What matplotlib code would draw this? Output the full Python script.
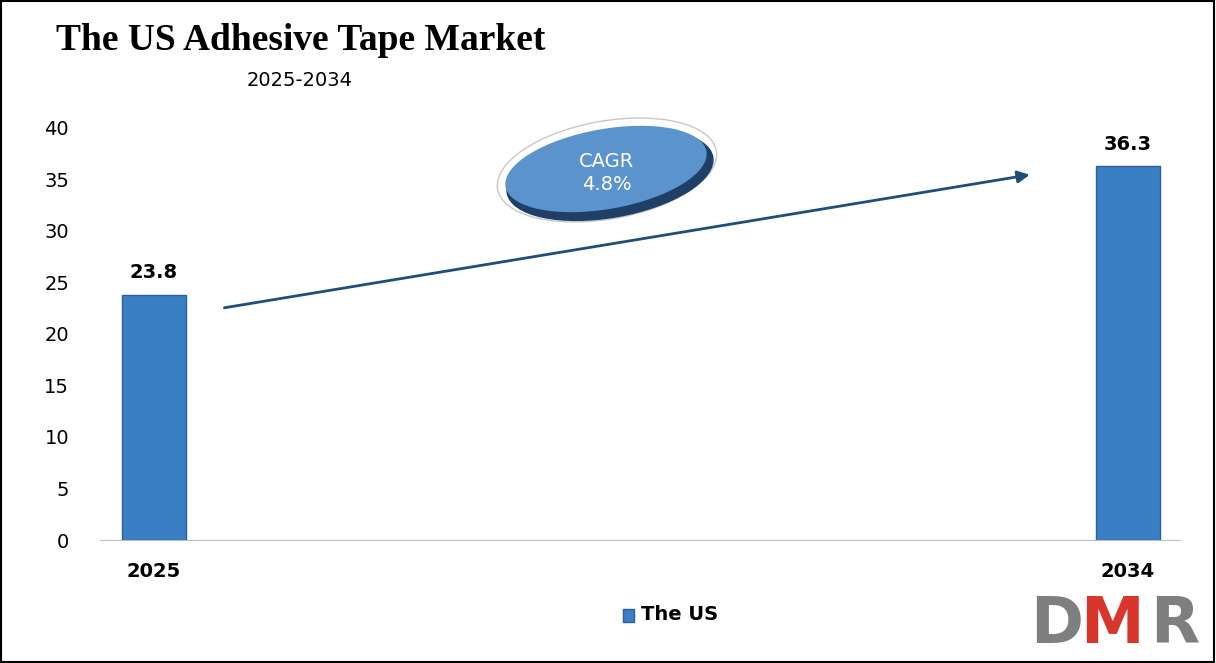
import matplotlib
matplotlib.use("Agg")
import matplotlib.pyplot as plt
from matplotlib.patches import Ellipse, Rectangle
from matplotlib.transforms import IdentityTransform

years = ["2025", "2034"]
values = [23.8, 36.3]
yticks = [0, 5, 10, 15, 20, 25, 30, 35, 40]

fig = plt.figure(figsize=(12.16, 6.63), dpi=100)
ax = fig.add_axes([0.082, 0.1855, 0.888, 0.6215])
x = [0, 1]
ax.bar(x, values, width=0.0657, color="#3a7fc4", edgecolor="#2a5f9a", linewidth=1, zorder=3)
ax.set_xlim(-0.0554, 1.0534)
ax.set_ylim(0, 40)
ax.set_yticks(yticks)
ax.tick_params(axis="y", length=0, labelsize=14, pad=22)
ax.set_xticks([])
for s in ["top", "right", "left"]:
    ax.spines[s].set_visible(False)
ax.spines["bottom"].set_color("#bfbfbf")
for xi, v, lab in zip(x, values, years):
    ax.text(xi, v + 1.2, f"{v}", ha="center", va="bottom", fontsize=14, fontweight="bold")
    ax.text(xi, -2.1, lab, ha="center", va="top", fontsize=14, fontweight="bold")

ax.annotate("", xy=(0.9025, 35.5), xytext=(0.0698, 22.5),
            arrowprops=dict(arrowstyle="-|>", color="#1f4e79", lw=2, mutation_scale=18))

# CAGR ellipse in pixel coordinates
e_out = Ellipse((607, 493), 222, 98, angle=10, transform=IdentityTransform(),
                facecolor="white", edgecolor="#c8c8c8", lw=1, zorder=5)
e_sh = Ellipse((610, 488), 210, 86, angle=10, transform=IdentityTransform(),
               facecolor="#1f3f66", zorder=5)
e_in = Ellipse((606, 494), 204, 80, angle=10, transform=IdentityTransform(),
               facecolor="#5b93cc", zorder=6)
for p in (e_out, e_sh, e_in):
    fig.patches.append(p)
fig.text(607/1216, 490/663, "CAGR\n4.8%", ha="center", va="center", color="white",
         fontsize=14, zorder=7, linespacing=1.3)

fig.text(56/1216, 1-40/663, "The US Adhesive Tape Market", fontsize=27, fontweight="bold",
         family="Liberation Serif", va="center", ha="left")
fig.text(300/1216, 1-80/663, "2025-2034", fontsize=14, va="center", ha="center")

# legend
fig.patches.append(Rectangle((623/1216, 1-622/663), 11/1216, 13/663, transform=fig.transFigure,
                             facecolor="#3a7fc4", edgecolor="#2a5f9a"))
fig.text(641/1216, 1-615/663, "The US", fontsize=14, fontweight="bold", va="center")

# logo
fig.text(1030/1216, 1-625/663, "D", fontsize=46, fontweight="bold", color="#7f7f7f", va="center")
fig.text(1080/1216, 1-625/663, "M", fontsize=46, fontweight="bold", color="#d9362b", va="center")
fig.text(1150/1216, 1-625/663, "R", fontsize=46, fontweight="bold", color="#7f7f7f", va="center")

fig.patches.append(Rectangle((0.001, 0.002), 0.997, 0.996, transform=fig.transFigure,
                             fill=False, edgecolor="black", lw=1.5))
fig.savefig("out.png", dpi=100)
